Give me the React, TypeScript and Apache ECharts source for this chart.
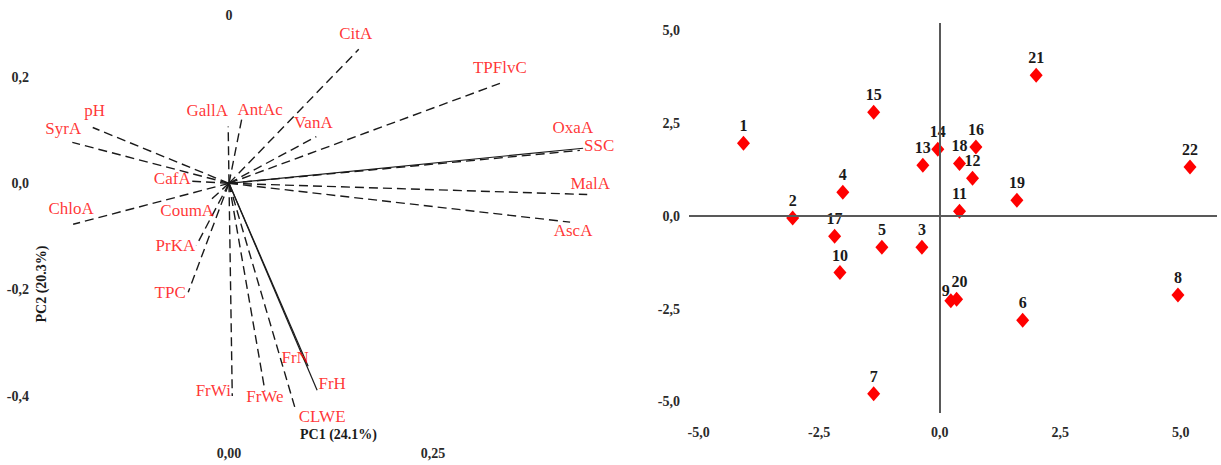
import React, { useEffect, useRef } from "react";
import * as echarts from "echarts";

// Loading plot (left)
const varNames = ["pH", "SyrA", "ChloA", "CafA", "CoumA", "GallA", "AntAc", "VanA", "CitA", "TPFlvC", "OxaA", "SSC", "MalA", "AscA", "PrKA", "TPC", "FrWi", "FrWe", "CLWE", "FrN", "FrH"];
const pc1Load = [-0.167, -0.192, -0.191, -0.045, -0.023, -0.001, 0.016, 0.107, 0.159, 0.332, 0.43, 0.434, 0.439, 0.418, -0.04, -0.05, 0.004, 0.044, 0.081, 0.097, 0.108];
const pc2Load = [0.105, 0.077, -0.077, 0.004, -0.032, 0.107, 0.124, 0.088, 0.252, 0.188, 0.062, 0.066, -0.021, -0.073, -0.117, -0.205, -0.4, -0.39, -0.423, -0.344, -0.389];
const solidVars = ["SSC", "FrN", "FrH"];

// Score plot (right)
const sampleIds = ["1", "2", "3", "4", "5", "6", "7", "8", "9", "10", "11", "12", "13", "14", "15", "16", "17", "18", "19", "20", "21", "22"];
const pc1Score = [-4.07, -3.05, -0.37, -2.01, -1.2, 1.72, -1.37, 4.94, 0.23, -2.07, 0.41, 0.68, -0.35, -0.04, -1.37, 0.75, -2.18, 0.41, 1.6, 0.35, 2.0, 5.19];
const pc2Score = [1.96, -0.05, -0.84, 0.64, -0.84, -2.8, -4.78, -2.12, -2.28, -1.52, 0.13, 1.02, 1.37, 1.8, 2.8, 1.86, -0.54, 1.42, 0.43, -2.24, 3.79, 1.32];

const loadTicksX = [0, 0.25];
const loadTicksY = [-0.4, -0.2, 0, 0.2];
const scoreTicks = [-5, -2.5, 0, 2.5, 5];

// label offsets (pixels) for loading names — styling only
const labelOffsets: Record<string, [number, number]> = {
  pH: [2, -17], SyrA: [-9, -14], ChloA: [-2, -16], CafA: [-20, -3], CoumA: [-23, 10],
  GallA: [-21, -16], AntAc: [18, -8], VanA: [-3, -14], CitA: [-3, -16], TPFlvC: [0, -16],
  OxaA: [-7, -23], SSC: [16, -3], MalA: [3, -11], AscA: [3, 8], PrKA: [-21, 0],
  TPC: [-18, 0], FrWi: [-19, -6], FrWe: [0, 6], CLWE: [27, 8], FrN: [-13, -9], FrH: [15, -7],
};
const sampleLabelOffsets: Record<string, [number, number]> = { "9": [-5, 7], "20": [3, 0] };

const FONT = "Liberation Serif";
const comma = (v: number, d: number) => v.toFixed(d).replace(".", ",");

export default function App() {
  const ref = useRef<HTMLDivElement>(null);
  useEffect(() => {
    document.body.style.margin = "0";
    const chart = echarts.init(ref.current!, null, { renderer: "svg" });

    const vectorSeries: any[] = varNames.map((n, i) => ({
      type: "line",
      xAxisIndex: 0,
      yAxisIndex: 0,
      data: [[0, 0], [pc1Load[i], pc2Load[i]]],
      symbol: "none",
      clip: false,
      silent: true,
      lineStyle: {
        color: "#1a1a1a",
        width: solidVars.includes(n) ? 1.2 : 1.4,
        type: solidVars.includes(n) ? "solid" : [9, 5],
      },
    }));

    const option: any = {
      animation: false,
      textStyle: { fontFamily: FONT },
      grid: [
        { left: 25, top: 77, width: 612, height: 319 },
        { left: 689, top: 23, width: 528, height: 390 },
      ],
      xAxis: [
        {
          gridIndex: 0, type: "value", min: -0.25, max: 0.5,
          axisLine: { show: false }, axisTick: { show: false }, splitLine: { show: false },
          axisLabel: {
            customValues: loadTicksX, margin: 50, fontFamily: FONT, fontWeight: "bold", fontSize: 14, color: "#2a2a2a",
            formatter: (v: number) => comma(v, 2),
          },
        },
        {
          gridIndex: 1, type: "value", min: -5.2, max: 5.75,
          axisLine: { show: false }, axisTick: { show: false }, splitLine: { show: false },
          axisLabel: {
            customValues: scoreTicks, margin: 12, fontFamily: FONT, fontWeight: "bold", fontSize: 14, color: "#2a2a2a",
            formatter: (v: number) => comma(v, 1),
          },
        },
        {
          gridIndex: 0, type: "value", min: -0.25, max: 0.5, position: "top",
          axisLine: { show: false }, axisTick: { show: false }, splitLine: { show: false },
          axisLabel: {
            customValues: [0], margin: 55, fontFamily: FONT, fontWeight: "bold", fontSize: 14, color: "#2a2a2a",
            formatter: (v: number) => String(v),
          },
        },
      ],
      yAxis: [
        {
          gridIndex: 0, type: "value", min: -0.4, max: 0.2,
          axisLine: { show: false }, axisTick: { show: false }, splitLine: { show: false },
          axisLabel: {
            customValues: loadTicksY, margin: -4, fontFamily: FONT, fontWeight: "bold", fontSize: 14, color: "#2a2a2a",
            formatter: (v: number) => comma(v, 1),
          },
        },
        {
          gridIndex: 1, type: "value", min: -5.3, max: 5.2,
          axisLine: { show: false }, axisTick: { show: false }, splitLine: { show: false },
          axisLabel: {
            customValues: scoreTicks, margin: 9, fontFamily: FONT, fontWeight: "bold", fontSize: 14, color: "#2a2a2a",
            formatter: (v: number) => comma(v, 1),
          },
        },
      ],
      series: [
        ...vectorSeries,
        {
          type: "scatter",
          xAxisIndex: 0,
          yAxisIndex: 0,
          symbolSize: 1,
          clip: false,
          itemStyle: { color: "rgba(0,0,0,0)" },
          silent: true,
          data: varNames.map((n, i) => ({
            value: [pc1Load[i], pc2Load[i]],
            name: n,
            label: { offset: labelOffsets[n] || [0, 0] },
          })),
          label: {
            show: true,
            position: "inside",
            formatter: (p: any) => p.name,
            fontFamily: FONT,
            fontSize: 17,
            color: "#ff0000",
            align: "center",
            verticalAlign: "middle",
          },
          z: 4,
        },
        {
          type: "scatter",
          xAxisIndex: 1,
          yAxisIndex: 1,
          symbol: "diamond",
          symbolSize: [13, 15],
          itemStyle: { color: "#ff0000", opacity: 1 },
          data: sampleIds.map((id, i) => ({
            value: [pc1Score[i], pc2Score[i]],
            name: id,
            label: { offset: sampleLabelOffsets[id] || [0, 0] },
          })),
          label: {
            show: true,
            position: "top",
            distance: 2,
            formatter: (p: any) => p.name,
            fontFamily: FONT,
            fontSize: 16,
            fontWeight: "bold",
            color: "#1a1a1a",
          },
          markLine: {
            silent: true,
            symbol: ["none", "none"],
            label: { show: false },
            lineStyle: { color: "#595959", width: 2, type: "solid" },
            data: [{ xAxis: 0 }, { yAxis: 0 }],
          },
          z: 3,
        },
      ],
      graphic: [
        {
          type: "text", left: 300, top: 427,
          style: { text: "PC1 (24.1%)", fontFamily: FONT, fontWeight: "bold", fontSize: 14, fill: "#1a1a1a" },
        },
        {
          type: "text", x: 41, y: 284, rotation: Math.PI / 2,
          style: { text: "PC2 (20.3%)", fontFamily: FONT, fontWeight: "bold", fontSize: 14, fill: "#1a1a1a", align: "center", verticalAlign: "middle" },
        },
      ],
    };
    chart.setOption(option);
    return () => chart.dispose();
  }, []);
  return <div ref={ref} style={{ width: 1221, height: 465 }} />;
}
